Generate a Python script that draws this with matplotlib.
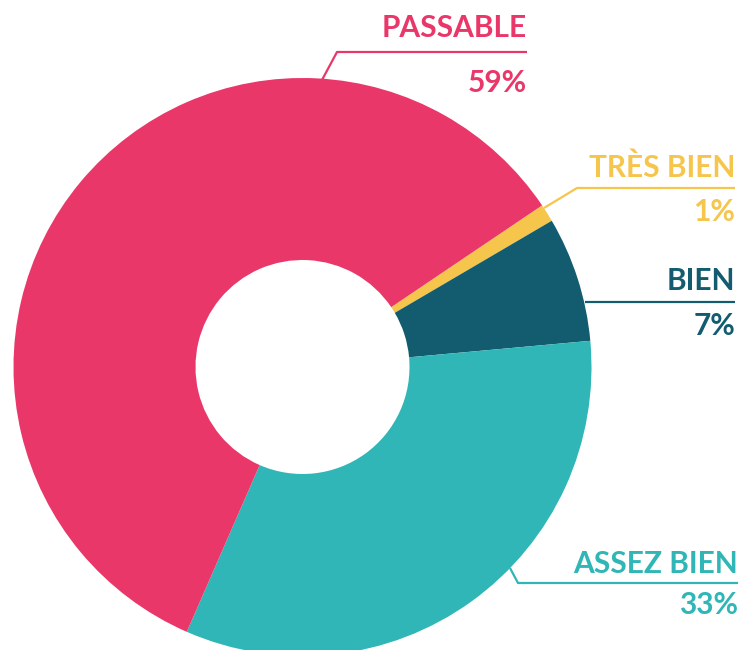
import matplotlib
matplotlib.use("Agg")
import matplotlib.pyplot as plt

# ---- data ----
categories = ["TRÈS BIEN", "BIEN", "ASSEZ BIEN", "PASSABLE"]
values = [1, 7, 33, 59]
pct_labels = ["1%", "7%", "33%", "59%"]
colors = ["#F6C54B", "#135C6F", "#30B6B6", "#E9376A"]

W, H = 756, 650
fig = plt.figure(figsize=(W / 100, H / 100), dpi=100)
ax = fig.add_axes([0, 0, 1, 1])

cx, cy = 302.5, H - 367
R, r_in = 289, 107
ax.pie(values, colors=colors, startangle=34.0, counterclock=False,
       radius=R, center=(cx, cy), frame=True,
       wedgeprops=dict(width=R - r_in, linewidth=0))
ax.set_xlim(0, W)
ax.set_ylim(0, H)
ax.set_aspect("equal")
ax.axis("off")

# label layout (pixel coords from top): leader path, right edge, line y,
# baseline of name, baseline of percentage
layout = {
    "PASSABLE":   dict(path=[(322, 80), (337, 52), (527, 52)], right=527, nb=37, pb=92),
    "TRÈS BIEN":  dict(path=[(544, 208), (577, 188), (735, 188)], right=735, nb=177, pb=221),
    "BIEN":       dict(path=[(585, 302), (735, 302)], right=735, nb=290, pb=335),
    "ASSEZ BIEN": dict(path=[(510, 568), (518, 583), (738, 583)], right=738, nb=573, pb=614),
}

for cat, pct, col in zip(categories, pct_labels, colors):
    L = layout[cat]
    xs = [p[0] for p in L["path"]]
    ys = [H - p[1] for p in L["path"]]
    ax.plot(xs, ys, color=col, lw=1.6, solid_capstyle="butt")
    ax.text(L["right"], H - L["nb"], cat, color=col, ha="right",
            va="baseline", fontsize=21.5, fontweight="bold", family="Lato")
    ax.text(L["right"], H - L["pb"], pct, color=col, ha="right",
            va="baseline", fontsize=21.5, fontweight="bold", family="Lato")

fig.savefig("out.png", dpi=100)
